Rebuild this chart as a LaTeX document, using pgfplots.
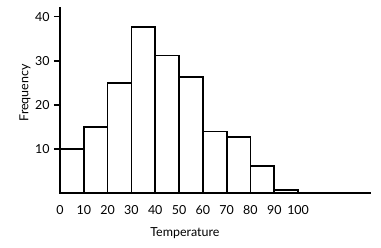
\documentclass[border=0pt]{standalone}
\usepackage{pgfplots}
\pgfplotsset{compat=1.18}
\usepackage{fontspec}
\setmainfont{Lato}
\begin{document}
\begin{tikzpicture}
\begin{axis}[
  name=ax,
  scale only axis,
  width=310.7bp, height=186bp,
  xmin=0, xmax=130.5, ymin=0, ymax=42.1,
  axis lines=left,
  axis line style={line width=1.7pt, -},
  xtick={0,10,20,30,40,50,60,70,80,90,100},
  ytick={10,20,30,40},
  x tick style={draw=none},
  y tick style={line width=1.7pt, black},
  tick align=outside,
  major tick length=6bp,
  /pgf/number format/assume math mode=true,
  tick label style={font=\fontsize{12.5}{14}\selectfont},
  xticklabel style={yshift=-3bp},
  yticklabel style={xshift=-1bp},
  xlabel={Temperature},
  ylabel={Frequency},
  label style={font=\fontsize{12.5}{14}\selectfont},
  xlabel style={at={(axis description cs:0.402,-0.213)}, anchor=center},
  ylabel style={at={(axis description cs:-0.113,0.54)}, anchor=center, rotate=0},
  clip=false,
]
\addplot[ybar interval, fill=white, draw=black, line width=1.7pt] coordinates {
  (0,10) (10,15) (20,25) (30,37.6) (40,31.2) (50,26.4) (60,14) (70,12.8) (80,6.2) (90,0.8) (100,0.8)
};
\end{axis}
\pgfresetboundingbox
\path (ax.south west) ++(-60bp,-54.7bp) coordinate (bl);
\path (ax.north east) ++(10.3bp,7.3bp) coordinate (tr);
\useasboundingbox (bl) rectangle (tr);
\end{tikzpicture}
\end{document}
